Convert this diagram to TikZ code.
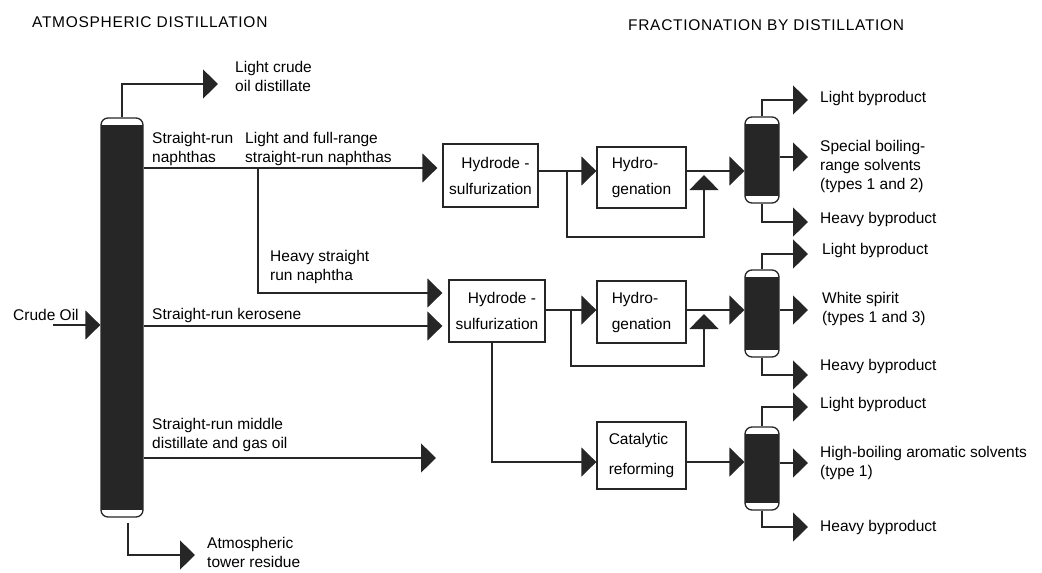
\documentclass[tikz,border=0pt]{standalone}
\usepackage{fontspec}
\setmainfont{Liberation Sans}
\usetikzlibrary{arrows.meta}
\definecolor{ink}{HTML}{262626}
\tikzset{
  flow/.style={draw=ink, line width=1.3pt, -{Triangle[length=15pt,width=29pt]}},
  unit/.style={draw=ink, line width=1.3pt, inner sep=0pt, font=\fontsize{15.5}{26}\selectfont},
  tower/.style={draw=ink, line width=1.3pt, fill=white, rounded corners=7pt, inner sep=0pt,
    path picture={\fill[ink, sharp corners] ([yshift=-7pt]path picture bounding box.north west)
      rectangle ([yshift=7pt]path picture bounding box.south east);}},
  lbl/.style={anchor=west, align=left, inner sep=0pt, font=\fontsize{15.5}{19}\selectfont},
  heading/.style={anchor=west, inner sep=0pt, font=\fontsize{15.5}{19}\selectfont\addfontfeature{LetterSpace=4.5}}
}
\begin{document}
\begin{tikzpicture}[x=1pt,y=-1pt]
  \useasboundingbox (0,0) rectangle (1042,573);
  \node[heading] (hatm) at (32,22) {ATMOSPHERIC DISTILLATION};
  \node[heading] (hfrac) at (628,25) {FRACTIONATION BY DISTILLATION};
  % atmospheric tower
  \node[tower, minimum width=42pt, minimum height=399pt] (tower) at (122,317.5) {};
  \node[lbl] (crude) at (13,315) {Crude Oil};
  \coordinate (crin) at (53,325);
  \draw[flow] (crin) -- (tower.west |- crin);
  \coordinate (lcd) at (218,84);
  \draw[flow] (tower.north) |- (lcd);
  \node[lbl] (lcdlbl) at (235,76) {Light crude\\oil distillate};
  \coordinate (atr) at (195,555);
  \draw[flow, shorten <=5pt] ([xshift=6pt]tower.south) |- (atr);
  \node[lbl] (atrlbl) at (207,552) {Atmospheric\\tower residue};
  % treating units
  \node[unit, minimum width=95pt, minimum height=63pt, align=center] (hds1) at (490.5,175.5) {\hspace*{10pt}Hydrode -\\sulfurization};
  \node[unit, minimum width=89pt, minimum height=61pt, align=left] (hyd1) at (641.5,177.5) {Hydro-\\genation};
  \node[unit, minimum width=96pt, minimum height=62pt, align=center] (hds2) at (497,311) {\hspace*{10pt}Hydrode -\\sulfurization};
  \node[unit, minimum width=89pt, minimum height=62pt, align=left] (hyd2) at (641.5,312) {Hydro-\\genation};
  \node[unit, minimum width=89pt, minimum height=67pt, align=left] (cat) at (641.5,455.5) {Catalytic\\[4pt]reforming};
  % side streams
  \coordinate (j1) at (258,168);
  \coordinate (k1) at (258,293);
  \coordinate (kero) at (0,326);
  \coordinate (mdend) at (436,458);
  \draw[flow, shorten >=5pt] (tower.east |- j1) -- (hds1.west |- j1);
  \draw[flow, shorten >=6pt] (j1) |- (hds2.west |- k1);
  \draw[flow, shorten >=6pt] (tower.east |- kero) -- (hds2.west |- kero);
  \draw[flow] (tower.east |- mdend) -- (mdend);
  \node[lbl] (srn) at (152,149) {Straight-run\\naphthas};
  \node[lbl] (lfr) at (245,149) {Light and full-range\\straight-run naphthas};
  \node[lbl] (hsr) at (270,267) {Heavy straight\\run naphtha};
  \node[lbl] (srk) at (152,315) {Straight-run kerosene};
  \node[lbl] (srm) at (152,435) {Straight-run middle\\distillate and gas oil};
  % first line
  \coordinate (b1) at (567,171);
  \coordinate (b1d) at (567,237);
  \coordinate (m1) at (704,171);
  \draw[flow] (hds1.east |- m1) -- (hyd1.west |- m1);
  \draw[flow, shorten >=4pt] (b1) -- (b1d) -| (m1);
  % second line
  \coordinate (b2) at (571,310);
  \coordinate (b2d) at (571,366);
  \coordinate (m2) at (704,310);
  \draw[flow] (hds2.east |- m2) -- (hyd2.west |- m2);
  \draw[flow, shorten >=4pt] (b2) -- (b2d) -| (m2);
  \coordinate (cr) at (0,462);
  \draw[flow] ([xshift=-5pt]hds2.south) |- (cat.west |- cr);
  % fractionating columns
  \node[tower, minimum width=34pt, minimum height=86pt] (col1) at (762,160) {};
  \node[tower, minimum width=34pt, minimum height=87pt] (col2) at (762,313.5) {};
  \node[tower, minimum width=34pt, minimum height=83pt] (col3) at (762,468.5) {};
  \draw[flow] (hyd1.east |- m1) -- (col1.west |- m1);
  \draw[flow] (hyd2.east |- m2) -- (col2.west |- m2);
  \draw[flow] (cat.east |- cr) -- (col3.west |- cr);
  \coordinate (lb1) at (808,100);
  \coordinate (sp1) at (808,157);
  \coordinate (hb1) at (808,222);
  \draw[flow] (col1.north) |- (lb1);
  \draw[flow] (col1.east |- sp1) -- (sp1);
  \draw[flow] (col1.south) |- (hb1);
  \node[lbl] (lb1lbl) at (820,98) {Light byproduct};
  \node[lbl] (sp1lbl) at (820,166) {Special boiling-\\range solvents\\(types 1 and 2)};
  \node[lbl] (hb1lbl) at (820,219) {Heavy byproduct};
  \coordinate (lb2) at (808,254);
  \coordinate (ws2) at (808,310);
  \coordinate (hb2) at (808,375);
  \draw[flow] (col2.north) |- (lb2);
  \draw[flow] (col2.east |- ws2) -- (ws2);
  \draw[flow] (col2.south) |- (hb2);
  \node[lbl] (lb2lbl) at (822,250) {Light byproduct};
  \node[lbl] (ws2lbl) at (822,309) {White spirit\\(types 1 and 3)};
  \node[lbl] (hb2lbl) at (820,366) {Heavy byproduct};
  \coordinate (lb3) at (808,407);
  \coordinate (ha3) at (808,463);
  \coordinate (hb3) at (808,527);
  \draw[flow] (col3.north) |- (lb3);
  \draw[flow] (col3.east |- ha3) -- (ha3);
  \draw[flow] (col3.south) |- (hb3);
  \node[lbl] (lb3lbl) at (820,404) {Light byproduct};
  \node[lbl] (ha3lbl) at (820,463) {High-boiling aromatic solvents\\(type 1)};
  \node[lbl] (hb3lbl) at (820,527) {Heavy byproduct};
\end{tikzpicture}
\end{document}
